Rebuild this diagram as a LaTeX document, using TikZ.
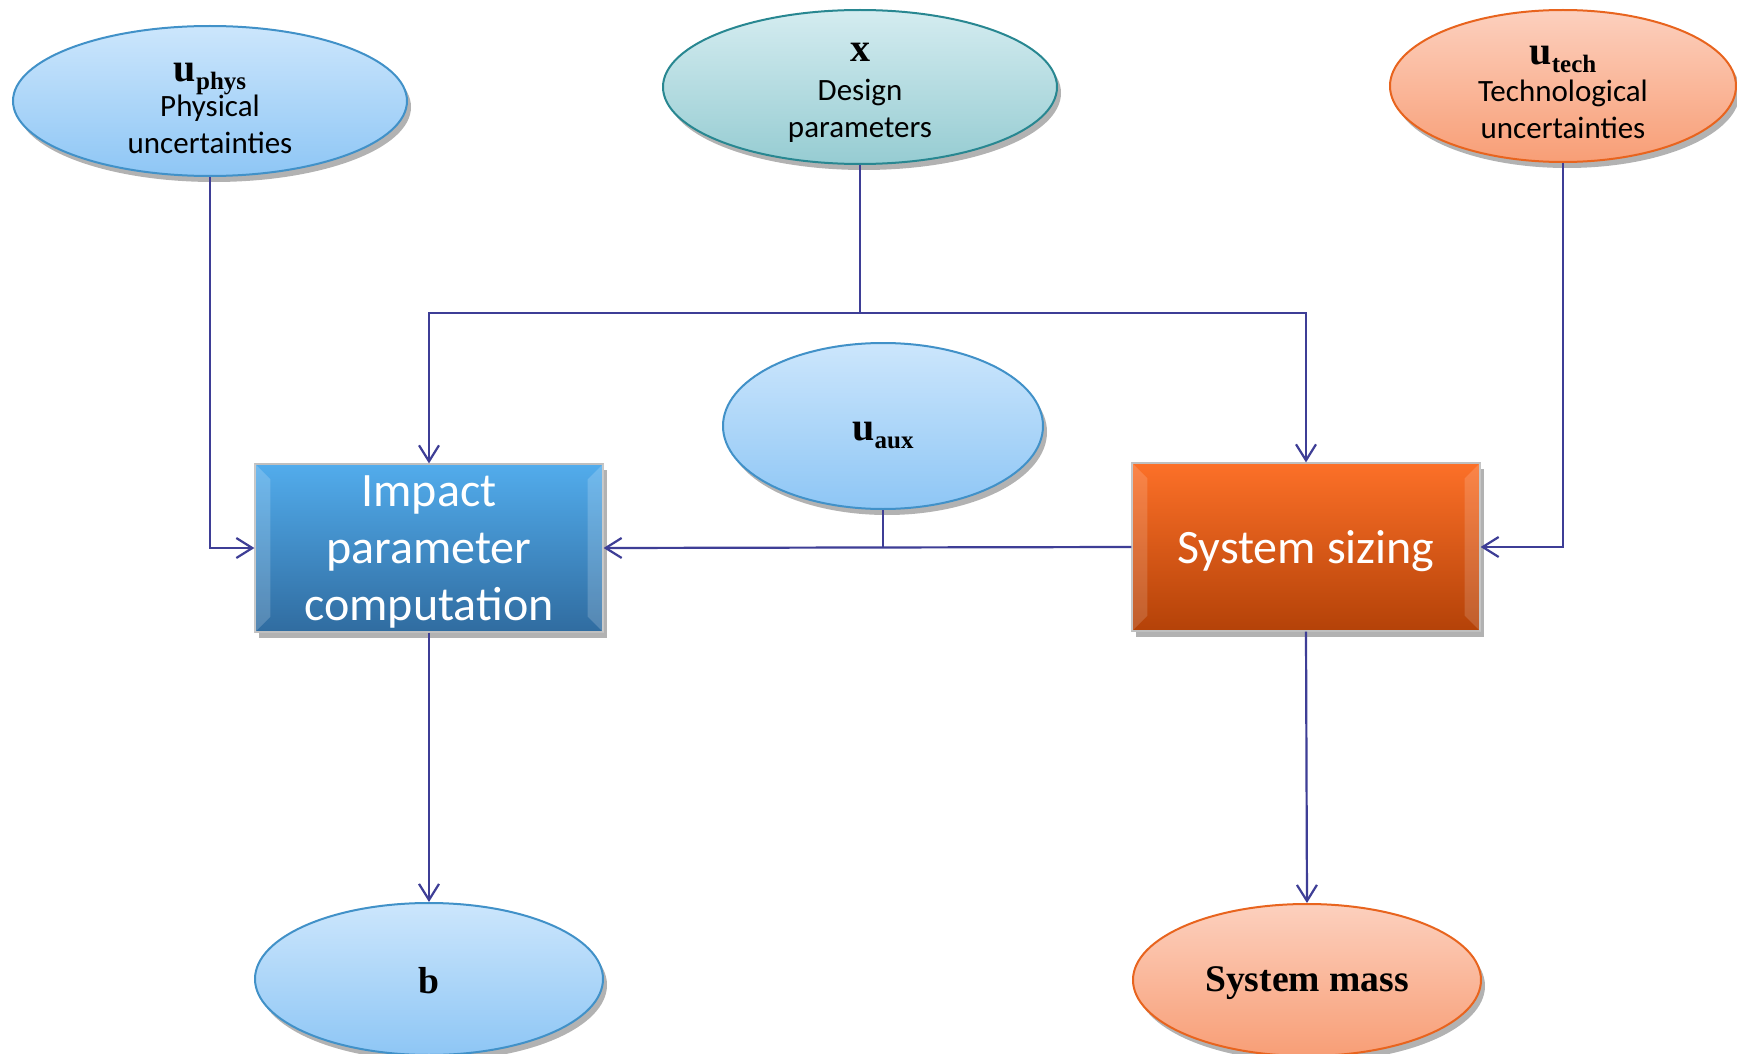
\documentclass[tikz,border=0pt]{standalone}
\usepackage{fontspec}
\setmainfont{Liberation Serif}
\newfontfamily\calibri{Carlito}
\usetikzlibrary{shapes.geometric,shadows,arrows.meta}
\definecolor{conncol}{RGB}{62,62,150}
\definecolor{bluetop}{RGB}{204,230,252}
\definecolor{bluebot}{RGB}{142,198,245}
\definecolor{blueedge}{RGB}{65,145,200}
\definecolor{tealtop}{RGB}{212,236,240}
\definecolor{tealbot}{RGB}{150,204,210}
\definecolor{tealedge}{RGB}{40,135,145}
\definecolor{ortop}{RGB}{252,208,190}
\definecolor{orbot}{RGB}{248,158,118}
\definecolor{oredge}{RGB}{232,100,30}
\definecolor{imptop}{RGB}{82,172,236}
\definecolor{impbot}{RGB}{48,108,160}
\definecolor{siztop}{RGB}{252,112,40}
\definecolor{sizbot}{RGB}{180,66,8}
\newcommand\uvar[1]{{\rmfamily\bfseries\fontsize{20}{20}\selectfont u}{\rmfamily\bfseries\fontsize{12.5}{12.5}\selectfont\raisebox{-4pt}{#1}}}
\tikzset{
  shad/.style={drop shadow={shadow xshift=2pt,shadow yshift=-3pt,fill=black,opacity=0.3}},
  ell/.style={ellipse,inner sep=0pt,line width=1pt,shad,align=center,
     font=\calibri\fontsize{15.5}{18.5}\selectfont},
  blueell/.style={ell,draw=blueedge,top color=bluetop,bottom color=bluebot},
  tealell/.style={ell,draw=tealedge,top color=tealtop,bottom color=tealbot},
  orell/.style={ell,draw=oredge,top color=ortop,bottom color=orbot},
  elltext/.style={align=center,inner sep=0pt,font=\calibri\fontsize{15.5}{18.5}\selectfont},
  boxtext/.style={align=center,inner sep=0pt,text=white,font=\calibri\fontsize{24}{28.5}\selectfont},
  procbox/.style={rectangle,inner sep=0pt,draw=black!25,line width=0.6pt,shad,
     minimum width=174pt,minimum height=84pt},
  conn/.style={draw=conncol,line width=1.1pt,-{Straight Barb[length=8pt,width=10pt,line width=1.1pt]}},
  plainline/.style={draw=conncol,line width=1.1pt},
}
\begin{document}
\begin{tikzpicture}[x=0.5pt,y=-0.5pt]
\useasboundingbox (0,0) rectangle (1737,1054);
\fill[white] (0,0) rectangle (1737,1054);
% ellipses
\node[blueell,minimum width=197pt,minimum height=75pt,
  label={[elltext,yshift=-3.5pt]center:{\uvar{phys}\\[-1pt]Physical\\uncertainties}}] (uphys) at (210,101) {};
\node[tealell,minimum width=197pt,minimum height=77pt,
  label={[elltext,yshift=-3pt]center:{{\rmfamily\bfseries\fontsize{20}{20}\selectfont x}\\[1pt]Design\\parameters}}] (x) at (860,87) {};
\node[orell,minimum width=173pt,minimum height=76pt,
  label={[elltext,yshift=-3pt]center:{\uvar{tech}\\[0pt]Technological\\uncertainties}}] (utech) at (1563,86) {};
\node[blueell,minimum width=160pt,minimum height=83pt,
  label={[elltext,yshift=-4.5pt]center:{\uvar{aux}}}] (uaux) at (883,426) {};
\node[blueell,minimum width=174pt,minimum height=76pt,
  label={[elltext,yshift=-1pt]center:{\rmfamily\bfseries\fontsize{18.8}{18.8}\selectfont b}}] (b) at (429,979) {};
\node[orell,minimum width=174pt,minimum height=76pt,
  label={[elltext,yshift=-1.5pt]center:{\rmfamily\bfseries\fontsize{18.8}{18.8}\selectfont System mass}}] (mass) at (1307,980) {};
% boxes
\node[procbox,top color=imptop,bottom color=impbot,
  label={[boxtext,yshift=-2pt]center:{Impact\\parameter\\computation}}] (imp) at (429,548) {};
\node[procbox,top color=siztop,bottom color=sizbot,
  label={[boxtext,yshift=-2pt]center:{System sizing}}] (siz) at (1306,547) {};
% bevel highlights
\fill[white,opacity=0.18] (imp.north west) -- ++(16,16) -- ([shift={(16,-16)}]imp.south west) -- (imp.south west) -- cycle;
\fill[white,opacity=0.18] (imp.north east) -- ++(-16,16) -- ([shift={(-16,-16)}]imp.south east) -- (imp.south east) -- cycle;
\fill[white,opacity=0.15] (siz.north west) -- ++(16,16) -- ([shift={(16,-16)}]siz.south west) -- (siz.south west) -- cycle;
\fill[white,opacity=0.15] (siz.north east) -- ++(-16,16) -- ([shift={(-16,-16)}]siz.south east) -- (siz.south east) -- cycle;
% connectors
\coordinate (split) at (860,313);
\draw[conn] (uphys.south) |- (imp.west);
\draw[plainline] (x.south) -- (split);
\draw[conn] (split) -| (imp.north);
\draw[conn] (split) -| (siz.north);
\draw[conn] (utech.south) |- (siz.east);
\draw[conn] (siz.west) -- (imp.east);
\draw[plainline] (uaux.south) -- (uaux.south |- imp.east);
\draw[conn] (imp.south) -- (b.north);
\draw[conn] (siz.south) -- (mass.north);
\end{tikzpicture}
\end{document}
